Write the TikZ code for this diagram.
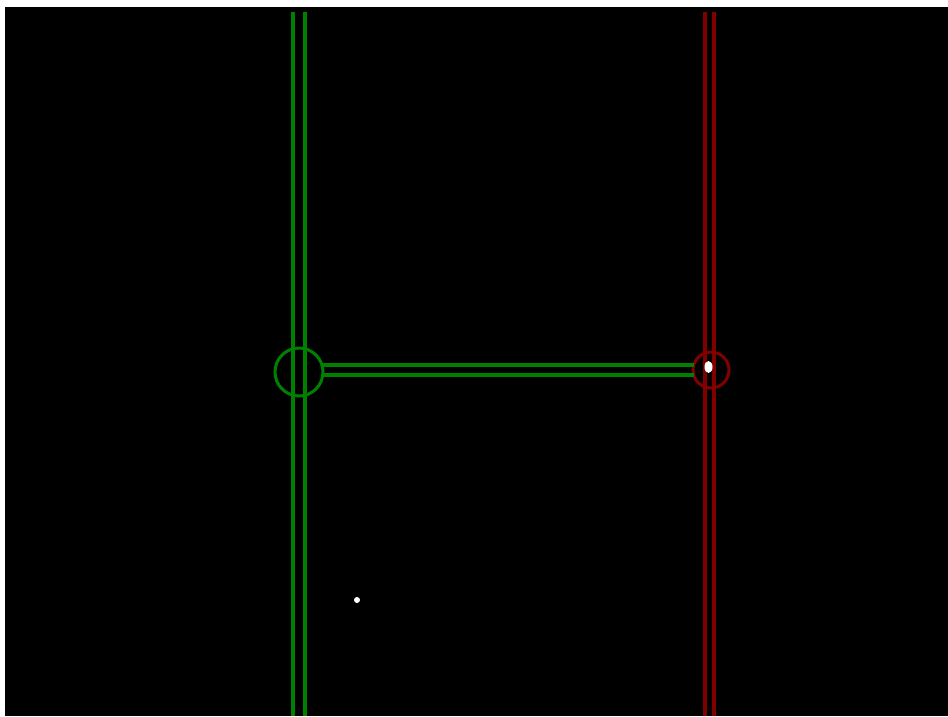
\documentclass[tikz,border=0pt]{standalone}
\usepackage{tikz}
\usetikzlibrary{calc,shapes.geometric}
\definecolor{pipegreen}{RGB}{0,128,0}
\definecolor{pipered}{RGB}{128,0,0}
\tikzset{
  pipeg/.style  ={draw=pipegreen,line width=3.2pt},
  piper/.style  ={draw=pipered,line width=3.2pt},
  joint/.style  ={circle,draw,line width=3pt,inner sep=0pt},
  blip/.style   ={ellipse,fill=white,inner sep=0pt},
}

\begin{document}
\begin{tikzpicture}[x=1pt,y=-1pt]
  \useasboundingbox (0,0) rectangle (948,716);
  \fill[white] (0,0) rectangle (948,716);
  \fill[black] (5,7) rectangle (948,716);
  % junctions
  \node[joint,draw=pipegreen,minimum size=48pt] (jg) at (299,372) {};
  \node[joint,draw=pipered,minimum size=36pt]   (jr) at (711,370) {};
  % free ends of the vertical pipes
  \coordinate (g1t) at (293,12);  \coordinate (g1b) at (293,716);
  \coordinate (g2t) at (305,12);  \coordinate (g2b) at (305,716);
  \coordinate (r1t) at (705,12);  \coordinate (r1b) at (705,716);
  \coordinate (r2t) at (714,12);  \coordinate (r2b) at (714,716);
  % vertical pipes
  \draw[pipeg] (g1t) -- (g1b);
  \draw[pipeg] (g2t) -- (g2b);
  \draw[piper] (r1t) -- (r1b);
  \draw[piper] (r2t) -- (r2b);
  % horizontal pipe between the junctions
  \coordinate (h1a) at (322,365); \coordinate (h1b) at (694,365);
  \coordinate (h2a) at (322,375); \coordinate (h2b) at (694,375);
  \draw[pipeg] (h1a) -- (h1b);
  \draw[pipeg] (h2a) -- (h2b);
  % markers
  \node[blip,minimum width=8pt,minimum height=12pt] (m1) at (708.5,367) {};
  \node[circle,fill=white,inner sep=0pt,minimum size=6pt] (m2) at (357,600) {};
\end{tikzpicture}
\end{document}
